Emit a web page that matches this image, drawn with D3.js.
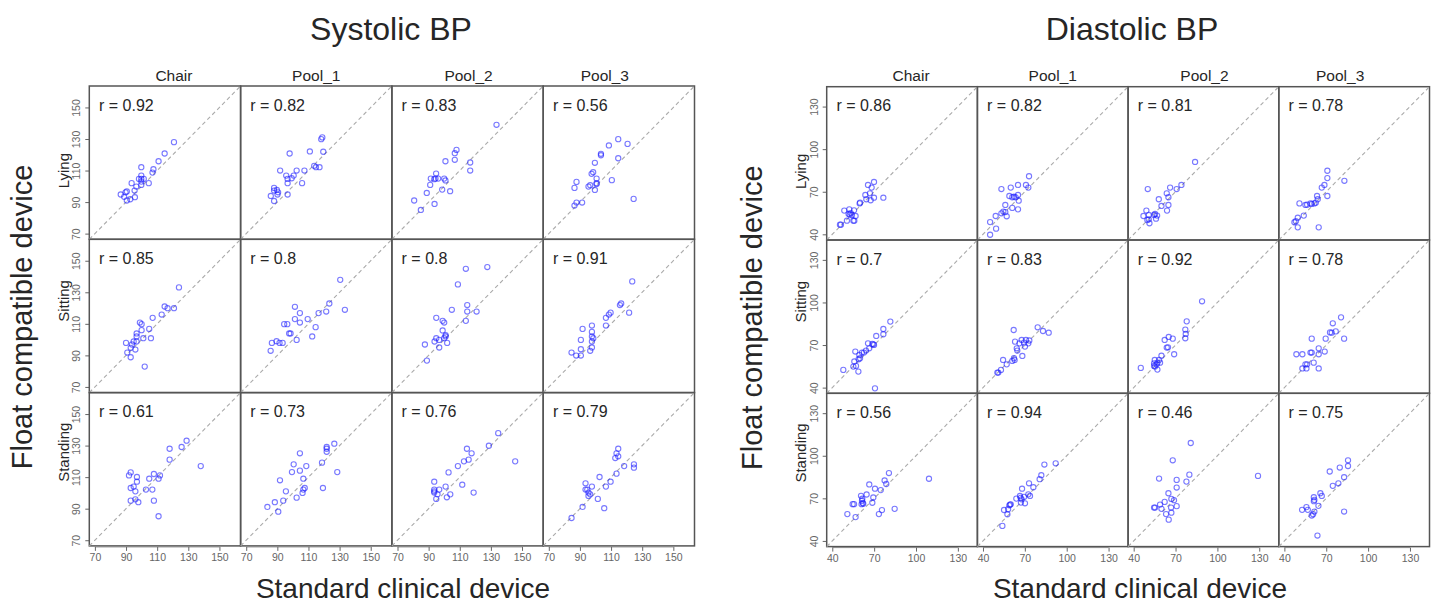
<!DOCTYPE html>
<html><head><meta charset="utf-8">
<script src="https://cdn.jsdelivr.net/npm/d3@7"></script>
<style>
html,body{margin:0;padding:0;background:#fff;}
svg{display:block;font-family:"Liberation Sans",Arial,Helvetica,sans-serif;}
</style></head>
<body>
<svg id="chart" width="1432" height="605"></svg>
<script>
// ---------- DATA ----------
const positions = ["Lying", "Sitting", "Standing"];
const settings = ["Chair", "Pool_1", "Pool_2", "Pool_3"];
const panelTitles = ["Systolic BP", "Diastolic BP"];
const yAxisTitle = "Float compatible device";
const xAxisTitle = "Standard clinical device";

const sysTicks = [70, 90, 110, 130, 150];
const diaTicks = [40, 70, 100, 130];
const sysDomain = [66.4, 163.6];
const diaDomain = [36, 144];

const sysR = [[0.92, 0.82, 0.83, 0.56], [0.85, 0.8, 0.8, 0.91], [0.61, 0.73, 0.76, 0.79]];
const diaR = [[0.86, 0.82, 0.81, 0.78], [0.7, 0.83, 0.92, 0.78], [0.56, 0.94, 0.46, 0.75]];

// Systolic: [standard, float]
const sysLyingChair = [[120.8,128.0],[114.8,120.8],[110.9,115.9],[107.6,110.8],[107.0,108.7],[99.8,112.1],[99.8,106.8],[101.4,104.7],[99.8,104.7],[99.8,103.0],[104.6,102.0],[99.8,100.9],[96.6,99.8],[93.6,102.0],[95.5,97.3],[95.7,93.1],[92.7,91.8],[90.5,96.7],[89.7,96.2],[86.6,94.8],[88.8,93.3],[90.5,91.0],[98.3,104.7]];
const sysLyingPool1 = [[118.9,131.0],[118.2,129.9],[110.9,122.1],[119.5,121.9],[97.9,120.8],[107.4,110.0],[102.4,110.0],[113.7,113.0],[114.8,112.1],[117.1,112.1],[95.7,106.8],[100.5,106.8],[99.2,105.1],[96.6,104.7],[96.6,102.0],[105.9,102.0],[91.8,110.0],[87.9,99.0],[89.7,97.7],[90.5,96.2],[87.9,97.3],[85.8,93.9],[90.1,94.8],[96.6,94.8],[87.9,90.7]];
const sysLyingPool2 = [[133.6,139.0],[107.9,123.1],[106.8,121.0],[100.8,115.9],[106.8,116.8],[116.7,115.1],[116.7,110.0],[94.8,108.1],[91.4,104.9],[93.6,104.5],[94.4,104.9],[96.1,104.9],[100.0,104.9],[100.8,103.7],[91.0,100.9],[98.7,97.9],[88.8,95.8],[103.8,96.9],[80.7,91.0],[93.8,88.8],[85.0,85.0]];
const sysLyingPool3 = [[114.6,129.9],[108.6,125.9],[120.6,126.9],[103.5,120.6],[103.5,119.7],[114.6,117.8],[99.6,114.9],[98.5,108.9],[97.5,107.9],[100.7,104.9],[100.7,102.0],[110.5,103.9],[87.8,102.8],[86.5,99.0],[96.6,100.7],[95.5,99.8],[99.6,97.7],[100.7,101.5],[124.5,92.0],[87.8,89.7],[91.4,89.7],[86.5,87.8]];
const sysSittingChair = [[124.0,133.1],[114.8,121.0],[116.7,119.9],[120.8,119.9],[112.9,115.9],[107.1,113.8],[98.9,110.8],[100.0,109.8],[104.9,106.8],[96.8,103.9],[100.0,106.0],[96.8,102.0],[106.0,100.9],[101.1,100.9],[96.8,98.8],[94.9,98.8],[90.0,97.9],[93.8,96.9],[96.0,93.7],[93.0,94.8],[90.8,91.8],[93.0,88.8],[102.0,82.9]];
const sysSittingPool1 = [[130.4,137.9],[133.4,118.9],[123.4,122.9],[121.4,117.8],[116.5,116.8],[109.5,113.0],[104.5,116.8],[101.3,120.8],[101.3,113.0],[104.5,110.8],[114.6,107.9],[112.4,102.0],[102.4,99.8],[98.5,103.9],[97.6,103.9],[94.4,109.8],[96.4,109.8],[89.5,99.0],[91.4,97.9],[93.4,97.9],[86.5,97.9],[85.7,92.9]];
const sysSittingPool2 = [[113.9,144.9],[127.7,146.0],[108.8,135.0],[104.9,118.9],[114.8,121.9],[114.8,117.8],[120.8,117.8],[113.9,111.9],[94.9,113.8],[99.0,111.9],[100.0,110.8],[99.0,105.8],[100.9,102.8],[100.9,102.0],[100.0,100.9],[96.8,99.8],[94.9,100.9],[93.8,98.8],[101.9,97.9],[87.6,96.9],[96.8,95.0],[88.9,86.7]];
const sysSittingPool3 = [[123.6,136.9],[116.5,122.9],[115.7,121.9],[109.7,117.1],[108.6,115.9],[106.7,113.8],[121.6,117.1],[106.7,108.9],[97.7,108.9],[91.7,106.8],[97.7,104.9],[97.7,102.0],[98.6,100.9],[97.7,98.8],[90.6,99.8],[97.7,95.0],[90.6,93.9],[96.6,92.9],[84.6,91.8],[87.6,89.9],[90.6,89.9]];
const sysStandingChair = [[128.9,133.1],[125.7,129.1],[118.0,128.0],[118.0,121.1],[138.0,117.0],[93.0,113.0],[91.9,111.1],[97.0,110.1],[111.8,111.1],[110.9,109.0],[107.9,112.0],[104.9,109.0],[97.0,107.1],[94.9,104.0],[93.0,103.1],[96.0,101.0],[102.8,102.1],[106.9,102.1],[96.0,95.9],[97.9,94.1],[107.9,95.1],[110.9,85.2],[93.0,95.1]];
const sysStandingPool1 = [[126.6,131.2],[121.7,129.1],[121.7,128.0],[121.7,126.1],[104.5,125.1],[128.5,113.2],[118.7,119.2],[108.6,117.0],[100.5,118.1],[104.5,114.1],[99.4,113.2],[106.7,109.0],[91.7,108.0],[106.7,102.1],[107.6,103.1],[95.5,101.0],[93.8,95.1],[88.4,94.1],[102.4,97.0],[106.2,100.0],[119.3,103.1],[83.6,91.1],[90.6,88.1]];
const sysStandingPool2 = [[134.7,137.9],[128.7,129.9],[114.6,128.0],[117.6,125.1],[115.7,121.1],[112.7,120.0],[108.8,117.0],[102.8,113.0],[93.6,107.1],[100.9,104.0],[93.6,102.1],[96.8,102.1],[93.6,100.2],[95.7,99.1],[94.9,96.2],[103.9,99.1],[101.7,97.2],[111.6,105.2],[118.9,100.2],[145.6,120.0],[93.6,101.0]];
const sysStandingPool3 = [[114.6,128.0],[113.5,125.1],[114.6,123.2],[112.7,122.1],[124.7,118.1],[124.7,116.0],[118.4,117.0],[113.5,112.2],[109.7,107.1],[102.6,110.1],[106.7,104.0],[93.6,106.1],[93.6,102.1],[94.7,102.1],[97.7,104.0],[95.5,100.2],[96.6,99.1],[95.5,98.1],[101.5,96.2],[105.6,90.3],[91.7,91.1],[84.6,84.1]];

// Diastolic: [standard, float]
const diaLyingChair = [[69.9,76.9],[65.6,74.8],[68.2,72.9],[63.7,67.7],[67.0,68.9],[69.9,65.8],[76.6,65.8],[67.5,64.0],[64.4,64.7],[59.9,62.3],[59.6,61.8],[55.6,56.9],[53.2,55.0],[54.1,53.6],[56.7,52.9],[48.6,56.7],[52.2,57.6],[50.5,49.6],[55.1,49.6],[55.8,49.6],[46.2,46.8],[45.5,46.8],[51.7,54.3],[52.5,53.9]];
const diaLyingPool1 = [[73.0,80.9],[70.8,74.8],[72.5,72.9],[65.1,74.8],[59.9,72.9],[53.2,71.9],[65.1,67.7],[62.2,66.5],[61.0,66.1],[63.4,66.1],[65.6,63.7],[58.9,67.0],[56.0,60.7],[61.0,58.6],[65.1,57.6],[54.6,56.0],[53.2,54.8],[56.0,55.7],[57.0,52.7],[49.1,52.9],[45.1,48.6],[49.4,44.0],[45.1,39.7]];
const diaLyingPool2 = [[84.0,91.0],[74.2,74.8],[66.1,72.9],[70.8,71.9],[50.1,71.9],[63.7,68.9],[64.9,66.1],[58.0,64.7],[59.9,60.0],[64.9,60.7],[63.9,56.7],[49.1,56.7],[55.3,54.3],[54.6,53.6],[50.8,53.6],[47.0,52.9],[56.8,53.2],[50.8,50.6],[56.0,51.0],[51.3,47.8],[49.8,50.1]];
const diaLyingPool3 = [[70.8,84.8],[70.8,79.6],[83.0,77.7],[68.7,74.8],[66.8,72.9],[70.8,67.0],[63.4,67.0],[63.9,64.7],[61.5,61.8],[62.5,62.3],[58.7,61.8],[59.6,61.4],[56.3,60.9],[55.1,60.7],[50.8,61.8],[53.9,53.2],[49.6,51.7],[48.2,49.2],[47.2,48.5],[49.6,44.9],[64.6,44.9]];
const diaSittingChair = [[81.6,86.5],[76.6,81.3],[76.6,77.6],[71.5,76.4],[69.9,70.1],[69.4,70.5],[68.7,70.8],[66.5,67.7],[65.6,71.2],[64.2,66.1],[62.7,64.7],[61.3,64.7],[59.4,63.0],[59.9,60.7],[58.9,60.0],[56.5,65.4],[55.8,58.4],[57.0,55.3],[55.1,54.8],[58.7,51.3],[47.9,52.5],[70.6,39.5]];
const diaSittingPool1 = [[79.2,82.5],[83.0,79.9],[87.1,78.7],[62.0,80.6],[63.0,72.4],[67.7,73.6],[70.8,73.6],[73.2,73.2],[66.1,71.2],[69.4,71.7],[72.5,71.2],[64.2,67.7],[70.1,68.9],[64.6,66.1],[68.2,62.3],[62.2,60.7],[61.0,58.8],[62.7,59.5],[57.0,56.4],[54.4,59.5],[52.9,52.5],[50.3,50.6],[51.0,50.6]];
const diaSittingPool2 = [[89.0,100.8],[78.0,86.7],[77.0,80.9],[77.3,77.8],[77.0,74.8],[65.1,75.7],[68.0,74.5],[62.2,73.6],[64.6,68.4],[63.7,68.2],[69.0,63.5],[59.9,62.5],[58.2,59.5],[55.1,59.5],[58.9,57.6],[57.0,57.6],[54.6,57.1],[55.3,54.8],[56.5,56.4],[54.6,55.3],[57.0,52.7],[45.1,53.9]];
const diaSittingPool3 = [[80.6,89.5],[74.7,85.3],[72.7,78.9],[76.8,79.6],[73.9,78.7],[82.8,74.5],[69.6,74.5],[59.6,74.5],[64.6,67.7],[68.9,65.4],[64.6,63.5],[58.7,64.7],[59.6,64.7],[52.9,63.5],[48.6,63.5],[55.1,56.4],[56.3,56.4],[61.0,57.6],[52.9,53.5],[55.8,53.5],[64.6,53.5]];
const diaStandingChair = [[109.3,83.8],[80.6,87.8],[77.5,82.6],[78.7,80.1],[66.5,79.8],[70.6,76.8],[74.7,75.8],[64.6,72.7],[60.6,71.8],[69.4,70.6],[61.5,69.7],[61.3,68.3],[68.7,66.9],[61.8,66.7],[62.2,66.2],[61.0,65.9],[55.6,65.9],[54.6,65.9],[84.7,62.6],[75.6,61.7],[73.4,58.9],[50.8,58.9],[56.7,56.8]];
const diaStandingPool1 = [[84.0,93.8],[92.1,94.7],[81.8,86.3],[80.6,83.5],[73.0,80.6],[76.1,77.8],[68.0,76.8],[72.5,72.8],[73.7,71.7],[69.4,71.0],[70.1,66.5],[66.5,71.7],[67.0,70.3],[67.7,69.3],[63.9,69.8],[67.2,67.0],[59.4,65.6],[59.9,65.8],[58.9,65.1],[55.1,61.8],[58.0,62.3],[57.5,58.8],[53.9,50.6]];
const diaStandingPool2 = [[80.9,109.0],[68.0,96.8],[129.1,85.8],[79.9,86.7],[58.2,83.9],[70.8,83.0],[77.8,81.8],[70.8,77.6],[64.9,73.6],[67.0,69.6],[68.9,68.7],[62.2,67.5],[58.9,65.6],[55.3,63.5],[54.6,63.5],[59.9,62.6],[66.8,63.5],[70.8,64.5],[63.2,58.9],[67.0,59.9],[65.1,55.0]];
const diaStandingPool3 = [[85.6,96.8],[85.6,92.8],[79.7,91.7],[72.5,88.9],[82.8,84.9],[78.7,80.6],[74.7,78.8],[65.8,73.6],[66.8,71.7],[61.1,70.8],[61.5,68.9],[61.1,68.0],[64.4,64.7],[55.8,63.8],[56.8,61.9],[52.7,61.9],[61.5,60.7],[60.6,58.8],[59.6,57.9],[82.8,60.7],[63.7,43.8]];

const sysCells = [
  [sysLyingChair, sysLyingPool1, sysLyingPool2, sysLyingPool3],
  [sysSittingChair, sysSittingPool1, sysSittingPool2, sysSittingPool3],
  [sysStandingChair, sysStandingPool1, sysStandingPool2, sysStandingPool3]
];
const diaCells = [
  [diaLyingChair, diaLyingPool1, diaLyingPool2, diaLyingPool3],
  [diaSittingChair, diaSittingPool1, diaSittingPool2, diaSittingPool3],
  [diaStandingChair, diaStandingPool1, diaStandingPool2, diaStandingPool3]
];

// ---------- DRAW ----------
const svg = d3.select("#chart");
const txt = "#262626";
const panels = [
  {title: panelTitles[0], cells: sysCells, r: sysR, ticks: sysTicks, domain: sysDomain,
   left: 89.3, top: 86, cw: 151.3, ch: 153.3, yTitleX: 22, xTitleX: 403, titleX: 391},
  {title: panelTitles[1], cells: diaCells, r: diaR, ticks: diaTicks, domain: diaDomain,
   left: 826.7, top: 86.7, cw: 150.7, ch: 153.3, yTitleX: 752, xTitleX: 1140, titleX: 1132}
];
const headerShift = [9, 0, 1, -14];
const rowShift = [8, -15, -17];

panels.forEach(p => {
  const g = svg.append("g");
  const W = p.cw * settings.length, H = p.ch * positions.length;
  const x = d3.scaleLinear().domain(p.domain).range([0, p.cw]);
  const y = d3.scaleLinear().domain(p.domain).range([p.ch, 0]);

  // panel title
  g.append("text").attr("x", p.titleX).attr("y", 40).attr("text-anchor", "middle")
    .attr("font-size", 32).attr("fill", txt).text(p.title);
  // axis titles
  g.append("text").attr("transform", `translate(${p.yTitleX},${p.top + H / 2 + 1}) rotate(-90)`)
    .attr("text-anchor", "middle").attr("dy", "0.35em").attr("font-size", 29).attr("fill", txt).text(yAxisTitle);
  g.append("text").attr("x", p.xTitleX).attr("y", 598).attr("text-anchor", "middle")
    .attr("font-size", 28).attr("fill", txt).text(xAxisTitle);

  // column headers
  settings.forEach((s, j) => {
    g.append("text").attr("x", p.left + p.cw * (j + 0.5) + headerShift[j]).attr("y", 81)
      .attr("text-anchor", "middle").attr("font-size", 15.5).attr("fill", txt).text(s);
  });

  positions.forEach((pos, i) => {
    const cy = p.top + p.ch * i;
    // row label
    g.append("text").attr("transform", `translate(${p.left - 26},${cy + p.ch / 2 + rowShift[i]}) rotate(-90)`)
      .attr("text-anchor", "middle").attr("dy", "0.35em").attr("font-size", 15).attr("fill", txt).text(pos);
    // y axis
    const ya = g.append("g").attr("transform", `translate(${p.left},${cy})`)
      .call(d3.axisLeft(y).tickValues(p.ticks).tickSize(4).tickPadding(0).tickFormat(d3.format("d")));
    ya.select(".domain").remove();
    ya.selectAll("line").attr("stroke", "#666");
    ya.selectAll("text").attr("font-size", 10.5).attr("fill", "#666").attr("font-family", "Liberation Sans, Arial, sans-serif")
      .attr("x", null).attr("dy", null)
      .attr("transform", "translate(-12.5,0) rotate(-90)").attr("text-anchor", "middle").attr("dy", "0.35em");

    settings.forEach((s, j) => {
      const cx = p.left + p.cw * j;
      const cell = g.append("g").attr("transform", `translate(${cx},${cy})`);
      cell.append("rect").attr("width", p.cw).attr("height", p.ch)
        .attr("fill", "none").attr("stroke", "#555").attr("stroke-width", 1.5);
      cell.append("line")
        .attr("x1", x(p.domain[0])).attr("y1", y(p.domain[0]))
        .attr("x2", x(p.domain[1])).attr("y2", y(p.domain[1]))
        .attr("stroke", "#aaa").attr("stroke-width", 1.1).attr("stroke-dasharray", "4,3");
      cell.selectAll("circle").data(p.cells[i][j]).join("circle")
        .attr("cx", d => x(d[0])).attr("cy", d => y(d[1])).attr("r", 2.6)
        .attr("fill", "none").attr("stroke", "rgba(30,30,255,0.6)").attr("stroke-width", 1.1);
      cell.append("text").attr("x", 9.7).attr("y", 24.5).attr("font-size", 16).attr("fill", txt)
        .text("r = " + p.r[i][j]);

      if (i === positions.length - 1) {
        const xa = g.append("g").attr("transform", `translate(${cx},${p.top + H + 1})`)
          .call(d3.axisBottom(x).tickValues(p.ticks).tickSize(4).tickPadding(3).tickFormat(d3.format("d")));
        xa.select(".domain").attr("stroke", "#888").attr("d", `M${x(p.ticks[0])},0H${x(p.ticks[p.ticks.length - 1])}`);
        xa.selectAll("line").attr("stroke", "#666");
        xa.selectAll("text").attr("font-size", 10.5).attr("fill", "#666").attr("font-family", "Liberation Sans, Arial, sans-serif");
      }
    });
  });
});
</script>
</body></html>
